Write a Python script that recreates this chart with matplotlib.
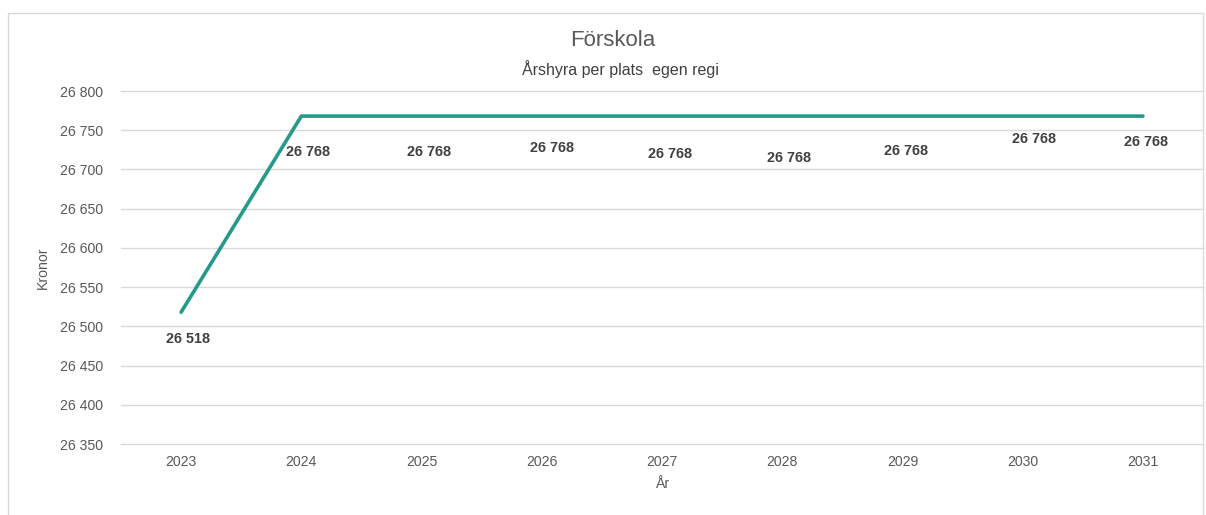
import matplotlib.pyplot as plt
from matplotlib.patches import Rectangle
from matplotlib.ticker import FuncFormatter

plt.rcParams['font.family'] = ['Liberation Sans', 'DejaVu Sans']

years = ["2023", "2024", "2025", "2026", "2027", "2028", "2029", "2030", "2031"]
values = [26518, 26768, 26768, 26768, 26768, 26768, 26768, 26768, 26768]

# label offsets in pixels (dx, dy down), as Excel placed them
label_offsets = [(7, 27), (7, 36), (8, 36), (10, 32), (8, 38), (7, 42), (4, 35), (11, 23), (3, 26)]

W, H = 1206, 515
fig = plt.figure(figsize=(W / 100, H / 100), dpi=100)
ax = fig.add_axes([121 / W, (H - 444) / H, (1203 - 121) / W, (444 - 91) / H])

# chart border
fig.patches.append(Rectangle((8 / W, -0.05), (1203 - 8) / W, (H - 13) / H + 0.05,
                             transform=fig.transFigure, fill=False,
                             edgecolor="#D9D9D9", linewidth=1))

x = list(range(len(years)))
ax.plot(x, values, color="#25998A", linewidth=2.6, solid_capstyle="round", zorder=3)

for xi, v, (dx, dy) in zip(x, values, label_offsets):
    ax.annotate(f"{v:,}".replace(",", " "), (xi, v), xytext=(dx * 0.72, -dy * 0.72),
                textcoords="offset points", ha="center", va="center",
                fontsize=10.4, fontweight="bold", color="#404040")

ax.set_xlim(-0.5, len(years) - 0.5)
ax.set_ylim(26350, 26800)
ax.set_yticks(range(26350, 26801, 50))
ax.yaxis.set_major_formatter(FuncFormatter(lambda v, p: f"{int(v):,}".replace(",", " ")))
ax.set_xticks(x)
ax.set_xticklabels(years)

ax.grid(axis="y", color="#D9D9D9", linewidth=1)
for gl in ax.get_ygridlines():
    gl.set_clip_on(False)
ax.set_axisbelow(True)
for s in ax.spines.values():
    s.set_visible(False)
ax.tick_params(length=0, labelsize=10.2, colors="#595959")
ax.tick_params(axis="y", pad=13)
ax.tick_params(axis="x", pad=8)

ax.set_ylabel("Kronor", fontsize=10.2, color="#595959")
ax.yaxis.set_label_coords((50 - 121) / 1082, 0.5)
ax.set_xlabel("År", fontsize=10.2, color="#595959", labelpad=6)

fig.text(613 / W, 1 - 41 / H, "Förskola", ha="center", va="center", fontsize=16, color="#595959")
fig.text(620 / W, 1 - 69 / H, "Årshyra per plats  egen regi", ha="center", va="center",
         fontsize=11.5, color="#404040")

fig.savefig("out.png", dpi=100)
